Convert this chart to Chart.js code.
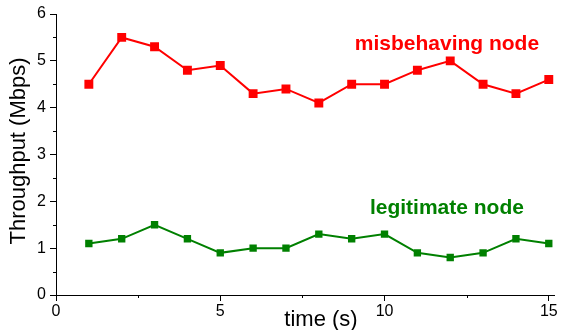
<!DOCTYPE html>
<html>
<head>
<meta charset="utf-8">
<script src="https://cdn.jsdelivr.net/npm/chart.js@4/dist/chart.umd.min.js"></script>
<style>
  html, body { margin: 0; padding: 0; background: #ffffff; }
  #wrap { width: 561px; height: 330px; }
</style>
</head>
<body>
<div id="wrap"><canvas id="c" width="561" height="330"></canvas></div>
<script>
// ---- data ----
const timeValues = [1, 2, 3, 4, 5, 6, 7, 8, 9, 10, 11, 12, 13, 14, 15];
const misbehavingValues = [4.5, 5.5, 5.3, 4.8, 4.9, 4.3, 4.4, 4.1, 4.5, 4.5, 4.8, 5.0, 4.5, 4.3, 4.6];
const legitimateValues = [1.1, 1.2, 1.5, 1.2, 0.9, 1.0, 1.0, 1.3, 1.2, 1.3, 0.9, 0.8, 0.9, 1.2, 1.1];
const seriesNames = ['misbehaving node', 'legitimate node'];
const xTitle = 'time (s)';
const yTitle = 'Throughput (Mbps)';

// ---- styling / layout constants ----
const RED = '#ff0000';
const GREEN = '#008000';
const FONT = '"Liberation Sans", Arial, sans-serif';
const labelPos = [ {x: 11.9, y: 5.23}, {x: 11.9, y: 1.73} ];

const toPoints = (xs, ys) => xs.map((x, i) => ({x: x, y: ys[i]}));

const decor = {
  id: 'decor',
  afterDraw(chart) {
    const ctx = chart.ctx;
    const xs = chart.scales.x, ys = chart.scales.y;
    const area = chart.chartArea;
    ctx.save();
    // minor ticks
    ctx.strokeStyle = '#000';
    ctx.lineWidth = 1;
    ctx.beginPath();
    xs.ticks.forEach(t => {
      if (t.value % 5 !== 0) {
        const px = Math.round(xs.getPixelForValue(t.value)) + 0.5;
        ctx.moveTo(px, area.bottom);
        ctx.lineTo(px, area.bottom + 3);
      }
    });
    ys.ticks.forEach(t => {
      if (t.value % 1 !== 0) {
        const py = Math.round(ys.getPixelForValue(t.value)) + 0.5;
        ctx.moveTo(area.left, py);
        ctx.lineTo(area.left - 3, py);
      }
    });
    ctx.stroke();

    // series labels
    ctx.font = 'bold 21px ' + FONT;
    ctx.textAlign = 'center';
    ctx.textBaseline = 'alphabetic';
    const cols = [RED, GREEN];
    seriesNames.forEach((name, i) => {
      ctx.fillStyle = cols[i];
      ctx.fillText(name, xs.getPixelForValue(labelPos[i].x), ys.getPixelForValue(labelPos[i].y));
    });

    // axis titles
    ctx.fillStyle = '#000';
    ctx.font = '22px ' + FONT;
    ctx.textAlign = 'center';
    ctx.textBaseline = 'middle';
    ctx.fillText(xTitle, 321, 320);
    ctx.save();
    ctx.translate(19, 151);
    ctx.rotate(-Math.PI / 2);
    ctx.fillText(yTitle, 0, 0);
    ctx.restore();
    ctx.restore();
  }
};

new Chart(document.getElementById('c'), {
  type: 'line',
  data: {
    datasets: [
      {
        label: seriesNames[0],
        data: toPoints(timeValues, misbehavingValues),
        borderColor: RED,
        backgroundColor: RED,
        borderWidth: 2,
        pointStyle: 'rect',
        pointRadius: 6.3,
        pointBorderWidth: 0,
        tension: 0
      },
      {
        label: seriesNames[1],
        data: toPoints(timeValues, legitimateValues),
        borderColor: GREEN,
        backgroundColor: GREEN,
        borderWidth: 2,
        pointStyle: 'rect',
        pointRadius: 5.2,
        pointBorderWidth: 0,
        tension: 0
      }
    ]
  },
  options: {
    responsive: false,
    animation: false,
    layout: { padding: { left: 0, right: 5, top: 14, bottom: 0 } },
    plugins: { legend: { display: false }, tooltip: { enabled: false } },
    scales: {
      x: {
        type: 'linear',
        min: 0,
        max: 15.18,
        afterFit(s) { s.height = 35; },
        ticks: {
          stepSize: 2.5,
          includeBounds: false,
          autoSkip: false,
          maxRotation: 0,
          padding: 1,
          color: '#000',
          font: { family: FONT, size: 16 },
          callback: v => (v % 5 === 0 ? String(v) : '')
        },
        grid: {
          drawOnChartArea: false,
          tickLength: 6,
          color: c => (c.tick && c.tick.value % 5 === 0 ? '#000' : 'rgba(0,0,0,0)')
        },
        border: { display: true, color: '#000', width: 1 }
      },
      y: {
        min: 0,
        max: 6,
        afterFit(s) { s.width = 56; },
        ticks: {
          stepSize: 0.5,
          autoSkip: false,
          padding: 4,
          color: '#000',
          font: { family: FONT, size: 16 },
          callback: v => (v % 1 === 0 ? String(v) : '')
        },
        grid: {
          drawOnChartArea: false,
          tickLength: 6,
          color: c => (c.tick && c.tick.value % 1 === 0 ? '#000' : 'rgba(0,0,0,0)')
        },
        border: { display: true, color: '#000', width: 1 }
      }
    }
  },
  plugins: [decor]
});
</script>
</body>
</html>
